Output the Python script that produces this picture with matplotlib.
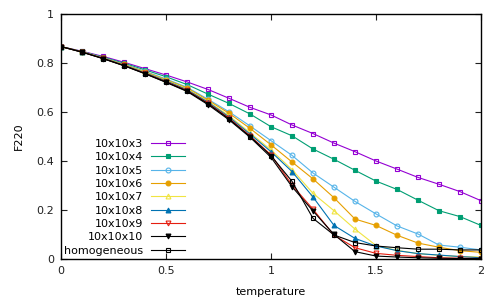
import matplotlib
matplotlib.use('Agg')
import matplotlib.pyplot as plt

# temperature grid
temperature = [0.0, 0.1, 0.2, 0.3, 0.4, 0.5, 0.6, 0.7, 0.8, 0.9, 1.0,
               1.1, 1.2, 1.3, 1.4, 1.5, 1.6, 1.7, 1.8, 1.9, 2.0]

# F220 for each system size
f_10x10x3 = [.867, .848, .827, .803, .777, .751, .723, .692, .656, .619, .588,
             .547, .512, .473, .438, .400, .367, .333, .305, .275, .238]
f_10x10x4 = [.867, .847, .824, .799, .772, .744, .712, .673, .635, .592, .540,
             .503, .449, .407, .362, .318, .284, .240, .197, .173, .137]
f_10x10x5 = [.867, .846, .822, .795, .766, .735, .701, .652, .601, .543, .483,
             .423, .351, .293, .235, .184, .135, .102, .057, .048, .037]
f_10x10x6 = [.867, .846, .821, .794, .764, .732, .698, .648, .595, .533, .466,
             .396, .327, .250, .163, .137, .097, .065, .048, .034, .027]
f_10x10x7 = [.867, .845, .820, .792, .762, .729, .694, .643, .585, .515, .445,
             .365, .268, .197, .122, .055, .035, .022, .015, .010, .008]
f_10x10x8 = [.867, .845, .820, .791, .760, .727, .691, .640, .580, .510, .438,
             .357, .253, .137, .084, .053, .034, .022, .016, .010, .005]
f_10x10x9 = [.867, .845, .819, .790, .758, .724, .688, .636, .575, .503, .425,
             .302, .203, .097, .046, .023, .015, .010, .005, .003, .002]
f_10x10x10 = [.867, .844, .818, .789, .756, .721, .684, .630, .568, .497, .415,
              .295, .196, .100, .030, .012, .008, .005, .003, .002, .002]
f_homogeneous = [.867, .845, .818, .789, .757, .722, .686, .634, .572, .500, .422,
                 .317, .166, .098, .067, .053, .046, .040, .040, .037, .037]

labels = ['10x10x3', '10x10x4', '10x10x5', '10x10x6', '10x10x7',
          '10x10x8', '10x10x9', '10x10x10', 'homogeneous']
series = [f_10x10x3, f_10x10x4, f_10x10x5, f_10x10x6, f_10x10x7,
          f_10x10x8, f_10x10x9, f_10x10x10, f_homogeneous]

# gnuplot-like styles
colors = ['#9400d3', '#009e73', '#56b4e9', '#e69f00', '#f0e442',
          '#0072b2', '#e51e10', '#000000', '#000000']
markers = ['s', 's', 'o', 'o', '^', '^', 'v', 'v', 's']
filled = [False, True, False, True, False, True, False, True, False]

plt.rcParams['font.family'] = 'DejaVu Sans'
plt.rcParams['font.size'] = 8

fig = plt.figure(figsize=(5, 3), dpi=100)
ax = fig.add_axes([0.122, 0.1367, 0.84, 0.8166])

for vals, lab, c, m, f in zip(series, labels, colors, markers, filled):
    ax.plot(temperature, vals, color=c, lw=0.8, marker=m, markersize=3.5,
            markerfacecolor=c if f else 'none', markeredgecolor=c,
            markeredgewidth=0.8, label=lab)

ax.set_xlim(0, 2)
ax.set_ylim(0, 1)
ax.set_xticks([0, 0.5, 1, 1.5, 2])
ax.set_xticklabels(['0', '0.5', '1', '1.5', '2'])
ax.set_yticks([0, 0.2, 0.4, 0.6, 0.8, 1])
ax.set_yticklabels(['0', '0.2', '0.4', '0.6', '0.8', '1'])
ax.tick_params(direction='in', top=True, right=True, length=4, width=0.8,
               labelsize=8, colors='#202020', pad=5)
for s in ax.spines.values():
    s.set_linewidth(1)
ax.set_xlabel('temperature', fontsize=8, labelpad=8)
ax.set_ylabel('F220', fontsize=8, labelpad=9)

ax.legend(loc='lower left', bbox_to_anchor=(0.0, 0.0), frameon=False,
          markerfirst=False, fontsize=8, handlelength=3.0,
          handletextpad=0.7, labelspacing=0.3, borderpad=0.3,
          borderaxespad=0.0, numpoints=1)

plt.savefig('out.png', dpi=100)
